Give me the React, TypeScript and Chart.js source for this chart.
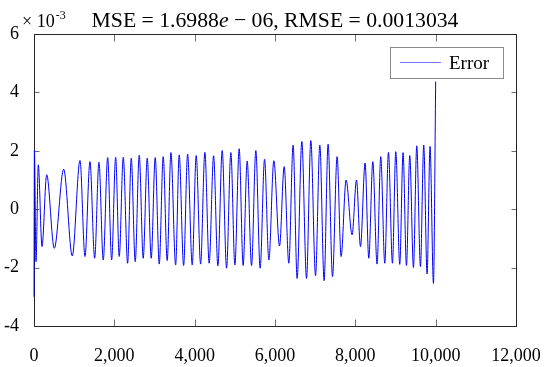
import React, { useEffect, useRef } from 'react';
import { Chart, registerables } from 'chart.js';

Chart.register(...registerables);

// Sample index (x axis) of each turning point of the error curve
const sampleX = [
  0, 10, 50, 107, 199, 316, 505, 739, 953, 1145, 1269, 1393, 1510, 1617, 1724, 1834,
  1933, 2033, 2122, 2222, 2331, 2421, 2520, 2620, 2719, 2819, 2918, 3018, 3118, 3217,
  3316, 3409, 3526, 3615, 3725, 3824, 3939, 4038, 4148, 4254, 4361, 4471, 4578, 4685,
  4794, 4901, 5001, 5108, 5207, 5307, 5416, 5523, 5630, 5740, 5847, 5971, 6113, 6228,
  6344, 6451, 6551, 6668, 6785, 6892, 7009, 7116, 7223, 7322, 7432, 7546, 7646, 7770,
  7919, 8029, 8128, 8243, 8335, 8435, 8541, 8633, 8733, 8825, 8924, 9007, 9106, 9188,
  9273, 9355, 9447, 9529, 9621, 9703, 9786, 9860, 9945, 10000,
];

// Error values in units of 10^-3
const errorY = [
  -3.0, 2.03, -1.8, 1.52, -1.28, 1.18, -1.34, 1.37, -1.6, 1.67, -1.62, 1.63, -1.68, 1.61,
  -1.74, 1.77, -1.74, 1.78, -1.62, 1.78, -1.85, 1.75, -1.8, 1.85, -1.68, 1.75, -1.68, 1.77,
  -1.88, 1.8, -1.76, 1.94, -1.91, 1.86, -1.93, 1.89, -1.91, 1.84, -1.88, 1.95, -1.85, 1.83,
  -1.94, 2.01, -2.02, 1.94, -1.91, 2.07, -1.93, 1.65, -1.93, 2.01, -2.02, 1.71, -1.74, 1.66,
  -1.26, 1.46, -1.85, 2.2, -2.37, 2.32, -2.37, 2.35, -2.28, 2.2, -2.45, 2.23, -2.31, 1.8,
  -1.62, 1.0, -0.88, 1.0, -1.28, 1.58, -1.68, 1.63, -1.88, 1.8, -1.85, 1.95, -1.85, 1.97,
  -1.89, 1.94, -1.93, 1.84, -2.0, 2.17, -1.97, 2.2, -2.22, 2.15, -2.54, 4.37,
];

const xTicks = [0, 2000, 4000, 6000, 8000, 10000, 12000];
const yTicks = [-4, -2, 0, 2, 4, 6];
const seriesLabel = 'Error';
const titleBefore = 'MSE = 1.6988';
const titleItalic = 'e';
const titleAfter = ' \u2212 06, RMSE = 0.0013034';
const exponentBase = '\u00d7 10';
const exponentPower = '-3';

const SERIF = '"Liberation Serif", "Times New Roman", serif';
const LINE_BLUE = '#0000ff';
const TITLE_SIZE = 21.7;

const framePlugin = {
  id: 'matlabFrame',
  beforeDatasetsDraw(chart: any) {
    const { ctx, chartArea: a, scales } = chart;
    const xs = scales.x;
    const ys = scales.y;
    const L = Math.round(a.left) + 0.5;
    const R = Math.round(a.right) + 0.5;
    const T = Math.round(a.top) + 0.5;
    const B = Math.round(a.bottom) + 0.5;
    ctx.save();
    ctx.lineWidth = 1;
    ctx.strokeStyle = '#6e6e6e';
    ctx.beginPath();
    for (const v of xTicks) {
      const px = Math.round(xs.getPixelForValue(v)) + 0.5;
      ctx.moveTo(px, B);
      ctx.lineTo(px, B - 7);
      ctx.moveTo(px, T);
      ctx.lineTo(px, T + 7);
    }
    for (const v of yTicks) {
      const py = Math.round(ys.getPixelForValue(v)) + 0.5;
      ctx.moveTo(L, py);
      ctx.lineTo(L + 5, py);
      ctx.moveTo(R, py);
      ctx.lineTo(R - 5, py);
    }
    ctx.stroke();
    ctx.strokeStyle = '#262626';
    ctx.strokeRect(L, T, R - L, B - T);
    ctx.restore();
  },
  afterDatasetsDraw(chart: any) {
    const { ctx, chartArea: a } = chart;
    ctx.save();
    // legend box
    const lx = 390.5, ly = 47.5, lw = 113, lh = 31;
    ctx.fillStyle = '#ffffff';
    ctx.fillRect(lx, ly, lw, lh);
    ctx.lineWidth = 1;
    ctx.strokeStyle = '#8a8a8a';
    ctx.strokeRect(lx, ly, lw, lh);
    ctx.strokeStyle = LINE_BLUE;
    ctx.globalAlpha = 0.55;
    ctx.beginPath();
    ctx.moveTo(400, 62.5);
    ctx.lineTo(441, 62.5);
    ctx.stroke();
    ctx.globalAlpha = 1;
    ctx.fillStyle = '#000';
    ctx.font = `19px ${SERIF}`;
    ctx.textBaseline = 'alphabetic';
    ctx.textAlign = 'left';
    ctx.fillText(chart.data.datasets[0].label, 449, 69);

    // title
    const normal = `${TITLE_SIZE}px ${SERIF}`;
    const italic = `italic ${TITLE_SIZE}px ${SERIF}`;
    ctx.font = normal;
    const w1 = ctx.measureText(titleBefore).width;
    ctx.font = italic;
    const w2 = ctx.measureText(titleItalic).width;
    ctx.font = normal;
    const w3 = ctx.measureText(titleAfter).width;
    const cx = (a.left + a.right) / 2;
    let tx = cx - (w1 + w2 + w3) / 2;
    const ty = 27;
    ctx.fillText(titleBefore, tx, ty);
    tx += w1;
    ctx.font = italic;
    ctx.fillText(titleItalic, tx, ty);
    tx += w2;
    ctx.font = normal;
    ctx.fillText(titleAfter, tx, ty);

    // exponent label
    ctx.font = `18px ${SERIF}`;
    ctx.fillText(exponentBase, 22, 27);
    const wb = ctx.measureText(exponentBase).width;
    ctx.font = `12px ${SERIF}`;
    ctx.fillText(exponentPower, 22 + wb + 1, 19);
    ctx.restore();
  },
};

export default function App() {
  const canvasRef = useRef<HTMLCanvasElement | null>(null);

  useEffect(() => {
    const canvas = canvasRef.current;
    if (!canvas) return;
    const points = sampleX.map((x, i) => ({ x, y: errorY[i] }));
    const chart = new Chart(canvas, {
      type: 'line',
      data: {
        datasets: [
          {
            label: seriesLabel,
            data: points,
            borderColor: LINE_BLUE,
            borderWidth: 1,
            pointRadius: 0,
            fill: false,
            cubicInterpolationMode: 'monotone',
            clip: 2,
          },
        ],
      },
      options: {
        responsive: false,
        animation: false,
        events: [],
        devicePixelRatio: 1,
        layout: { autoPadding: false, padding: { left: 0, right: 34, top: 34, bottom: 0 } },
        plugins: {
          legend: { display: false },
          tooltip: { enabled: false },
          title: { display: false },
        },
        scales: {
          x: {
            type: 'linear',
            min: 0,
            max: 12000,
            afterBuildTicks: (scale: any) => {
              scale.ticks = xTicks.map((v) => ({ value: v }));
            },
            afterFit: (scale: any) => {
              scale.height = 41;
              scale.paddingLeft = 0;
              scale.paddingRight = 0;
            },
            grid: { display: false, drawTicks: false },
            border: { display: false },
            ticks: {
              autoSkip: false,
              maxRotation: 0,
              padding: 19,
              color: '#000',
              font: { family: SERIF, size: 18 },
              callback: (v: any) => Number(v).toLocaleString('en-US'),
            },
          },
          y: {
            type: 'linear',
            min: -4,
            max: 6,
            afterBuildTicks: (scale: any) => {
              scale.ticks = yTicks.map((v) => ({ value: v }));
            },
            afterFit: (scale: any) => {
              scale.width = 34;
              scale.paddingTop = 0;
              scale.paddingBottom = 0;
            },
            grid: { display: false, drawTicks: false },
            border: { display: false },
            ticks: {
              padding: 15,
              color: '#000',
              font: { family: SERIF, size: 18 },
              callback: (v: any) => String(v),
            },
          },
        },
      },
      plugins: [framePlugin],
    } as any);
    return () => chart.destroy();
  }, []);

  return (
    <div style={{ position: 'absolute', left: 0, top: 0, width: 550, height: 367, background: '#fff' }}>
      <canvas ref={canvasRef} width={550} height={367} style={{ display: 'block', width: 550, height: 367 }} />
    </div>
  );
}
